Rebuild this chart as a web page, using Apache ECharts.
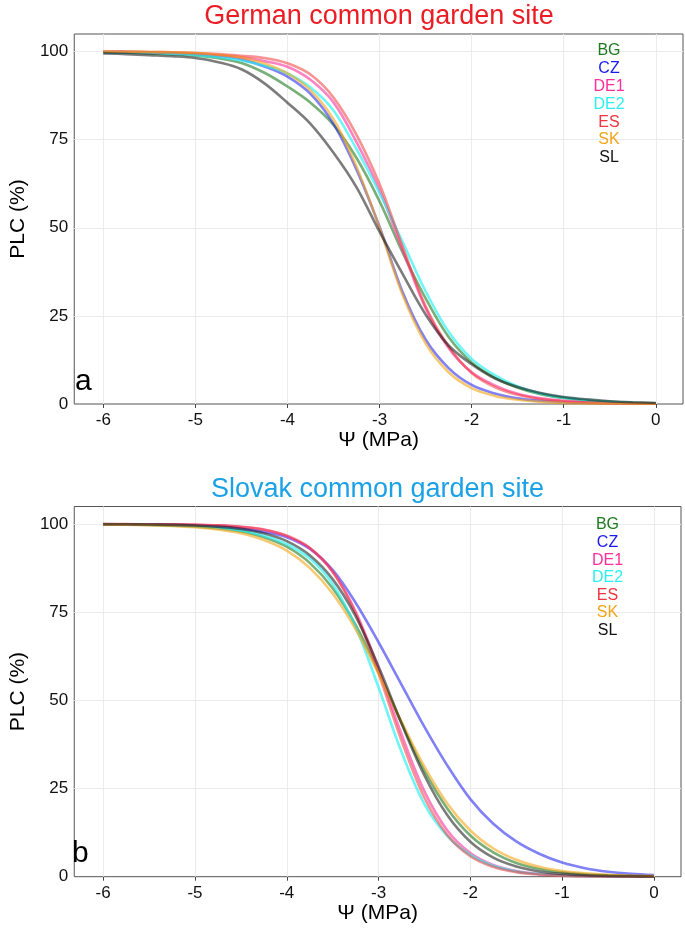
<!DOCTYPE html>
<html><head><meta charset="utf-8">
<script src="https://cdn.jsdelivr.net/npm/echarts@6/dist/echarts.min.js"></script>
<style>html,body{margin:0;padding:0;background:#fff}#c{width:685px;height:928px}</style>
</head><body><div id="c"></div>
<script>
// ---- data ----
const PSI = [-6, -5.75, -5.5, -5.25, -5, -4.75, -4.5, -4.25, -4, -3.75, -3.5, -3.25, -3, -2.75, -2.5, -2.25, -2, -1.75, -1.5, -1.25, -1, -0.75, -0.5, -0.25, 0];
const SITES = ['BG', 'CZ', 'DE1', 'DE2', 'ES', 'SK', 'SL'];
const X_TICKS = [-6, -5, -4, -3, -2, -1, 0];
const Y_TICKS = [0, 25, 50, 75, 100];
const TITLES = ['German common garden site', 'Slovak common garden site'];
const PANEL_LABELS = ['a', 'b'];
const X_NAME = 'Ψ (MPa)';
const Y_NAME = 'PLC (%)';

// Panel a: German common garden site
const BG_a  = [99.8, 99.7, 99.5, 99.3, 98.9, 98.1, 96.8, 94.0, 90.1, 85.5, 79.2, 69.8, 57.5, 43.0, 30.0, 19.0, 11.8, 7.5, 4.6, 2.8, 1.7, 1.0, 0.6, 0.35, 0.2];
const CZ_a  = [99.9, 99.85, 99.8, 99.6, 99.4, 98.8, 97.8, 95.8, 92.9, 88.0, 79.5, 66.5, 50.3, 31.8, 18.3, 10.2, 5.4, 3.0, 1.6, 0.9, 0.5, 0.3, 0.15, 0.08, 0.05];
const DE1_a = [99.95, 99.9, 99.8, 99.65, 99.4, 99.0, 98.4, 97.3, 95.7, 92.0, 85.6, 74.3, 60.7, 43.8, 27.2, 15.9, 9.0, 5.3, 2.9, 1.6, 0.9, 0.5, 0.25, 0.13, 0.07];
const DE2_a = [99.85, 99.75, 99.6, 99.35, 99.0, 98.4, 97.5, 96.0, 93.8, 89.8, 83.3, 72.3, 59.8, 46.0, 32.0, 20.5, 12.8, 8.2, 5.0, 3.0, 1.8, 1.1, 0.6, 0.35, 0.2];
const ES_a  = [100, 100, 99.9, 99.8, 99.6, 99.3, 98.8, 98.2, 96.7, 93.5, 87.0, 76.4, 62.4, 44.7, 27.7, 16.3, 8.8, 4.8, 2.6, 1.4, 0.8, 0.45, 0.2, 0.1, 0.05];
const SK_a  = [100, 99.95, 99.9, 99.8, 99.6, 99.1, 98.3, 96.6, 93.8, 89.0, 80.8, 67.3, 50.0, 31.0, 17.2, 9.0, 4.5, 2.3, 1.2, 0.6, 0.3, 0.15, 0.08, 0.04, 0.02];
const SL_a  = [99.5, 99.3, 99.0, 98.7, 98.2, 97.0, 95.0, 91.0, 85.5, 79.5, 71.3, 61.5, 48.9, 36.9, 25.4, 16.6, 11.3, 7.3, 4.8, 3.1, 2.0, 1.3, 0.8, 0.5, 0.3];

// Panel b: Slovak common garden site
const BG_b  = [99.94, 99.89, 99.8, 99.64, 99.35, 98.8, 97.9, 96.3, 93.6, 89.0, 81.8, 71.4, 58.1, 43.6, 30.0, 19.3, 11.7, 6.9, 3.9, 2.2, 1.25, 0.7, 0.4, 0.22, 0.12];
const CZ_b  = [99.95, 99.92, 99.88, 99.8, 99.65, 99.3, 98.8, 97.8, 96.3, 93.0, 87.0, 77.7, 66.5, 54.5, 42.5, 31.5, 22.0, 15.0, 10.0, 6.5, 4.0, 2.4, 1.4, 0.8, 0.45];
const DE1_b = [99.99, 99.98, 99.96, 99.92, 99.83, 99.64, 99.2, 98.4, 96.6, 93.2, 86.5, 75.2, 58.9, 40.4, 24.2, 13.1, 6.7, 3.3, 1.6, 0.75, 0.35, 0.17, 0.08, 0.04, 0.02];
const DE2_b = [99.99, 99.95, 99.85, 99.7, 99.5, 99.0, 98.2, 96.7, 94.3, 90.3, 83.0, 70.8, 53.7, 35.4, 20.6, 11.5, 6.2, 3.1, 1.5, 0.75, 0.36, 0.17, 0.07, 0.03, 0.01];
const ES_b  = [100, 99.99, 99.97, 99.93, 99.85, 99.68, 99.3, 98.5, 96.8, 93.3, 86.5, 74.7, 57.7, 38.6, 22.4, 11.8, 5.8, 2.75, 1.3, 0.6, 0.28, 0.13, 0.06, 0.03, 0.01];
const SK_b  = [99.9, 99.83, 99.7, 99.48, 99.1, 98.5, 97.4, 95.5, 92.5, 87.6, 80.3, 70.2, 57.6, 44.0, 31.2, 20.7, 13.1, 8.0, 4.8, 2.8, 1.6, 0.96, 0.55, 0.32, 0.19];
const SL_b  = [99.97, 99.95, 99.9, 99.8, 99.6, 99.29, 98.65, 97.4, 95.2, 91.2, 84.4, 73.9, 59.6, 43.5, 28.7, 17.4, 9.9, 5.4, 2.9, 1.5, 0.8, 0.42, 0.22, 0.12, 0.06];

const PANEL_DATA = [
  [BG_a, CZ_a, DE1_a, DE2_a, ES_a, SK_a, SL_a],
  [BG_b, CZ_b, DE1_b, DE2_b, ES_b, SK_b, SL_b]
];

// ---- style ----
const TEXT_COLORS = ['#1F7A1F', '#1A1AF0', '#FF2E99', '#2EEFF0', '#F03440', '#F2A516', '#111111'];
const LINE_COLORS = ['#1F7A1F', '#1A1AF0', '#FF2E99', '#22F0F0', '#EE3A3A', '#F2A516', '#111111'];
const LINE_OPACITY = [0.6, 0.55, 0.6, 0.65, 0.55, 0.6, 0.55];
const TITLE_COLORS = ['#EC1C24', '#1BA1E6'];
const FONT = '"Liberation Sans", Arial, Helvetica, sans-serif';
const GRIDS = [
  { left: 65, top: 34, width: 618, height: 370 },
  { left: 64, top: 506.5, width: 617, height: 370.2 }
];
const TITLE_TOPS = [-2, 471];
const LEGEND_POS = [{ x: 609, y: 51, gap: 17.8 }, { x: 607.5, y: 525, gap: 17.6 }];
const LABEL_POS = [{ x: 75, y: 397 }, { x: 72, y: 869 }];

const chart = echarts.init(document.getElementById('c'), null, { renderer: 'canvas' });

const grid = [], xAxis = [], yAxis = [], series = [], title = [], graphic = [];
GRIDS.forEach((g, p) => {
  grid.push(Object.assign({ show: true, borderColor: '#555', borderWidth: 1, backgroundColor: '#fff' }, g));
  xAxis.push({
    type: 'value', gridIndex: p, min: -6.315, max: 0.295,
    name: X_NAME, nameLocation: 'middle', nameGap: 26,
    nameTextStyle: { fontFamily: FONT, fontSize: 21, color: '#000' },
    axisLine: { show: false },
    axisTick: { show: true, length: 4, customValues: X_TICKS, lineStyle: { color: '#444', width: 1 } },
    axisLabel: { customValues: X_TICKS, fontFamily: FONT, fontSize: 17, color: '#111', margin: 8 },
    splitLine: { show: false }
  });
  yAxis.push({
    type: 'value', gridIndex: p, min: 0, max: 105,
    name: Y_NAME, nameLocation: 'middle', nameGap: 35, nameRotate: 90,
    nameTextStyle: { fontFamily: FONT, fontSize: 21, color: '#000' },
    axisLine: { show: false },
    axisTick: { show: true, length: 4, customValues: Y_TICKS, lineStyle: { color: '#444', width: 1 } },
    axisLabel: { customValues: Y_TICKS, fontFamily: FONT, fontSize: 17, color: '#111', margin: 6 },
    splitLine: { show: false }
  });
  // grid lines via the axes' scales
  series.push({
    type: 'line', xAxisIndex: p, yAxisIndex: p, data: [], z: 1,
    markLine: {
      silent: true, symbol: ['none', 'none'], animation: false, z: 1,
      label: { show: false },
      lineStyle: { color: '#EBEBEB', width: 1.1, type: 'solid' },
      data: X_TICKS.map(v => ({ xAxis: v })).concat(Y_TICKS.filter(v => v > 0).map(v => ({ yAxis: v })))
    }
  });
  SITES.forEach((s, i) => {
    series.push({
      name: s + '_' + p, type: 'line', xAxisIndex: p, yAxisIndex: p,
      data: PSI.map((x, k) => [x, PANEL_DATA[p][i][k]]),
      showSymbol: false, smooth: 0.35, z: 10 + i,
      lineStyle: { color: LINE_COLORS[i], width: 2.6, opacity: LINE_OPACITY[i] },
      silent: true, animation: false
    });
    graphic.push({
      type: 'text', x: LEGEND_POS[p].x, y: LEGEND_POS[p].y + i * LEGEND_POS[p].gap, z: 100,
      style: { text: s, fill: TEXT_COLORS[i], font: '16px ' + FONT, textAlign: 'center', textVerticalAlign: 'middle' }
    });
  });
  title.push({
    text: TITLES[p], left: (g.left + g.width / 2), top: TITLE_TOPS[p], textAlign: 'center',
    textStyle: { fontFamily: FONT, fontSize: 27, fontWeight: 'normal', color: TITLE_COLORS[p] }
  });
  graphic.push({
    type: 'text', x: LABEL_POS[p].x, y: LABEL_POS[p].y, z: 100,
    style: { text: PANEL_LABELS[p], fill: '#000', font: '30px ' + FONT, textAlign: 'left', textVerticalAlign: 'bottom' }
  });
});

chart.setOption({ animation: false, backgroundColor: '#fff', title, grid, xAxis, yAxis, series, graphic });
</script></body></html>
